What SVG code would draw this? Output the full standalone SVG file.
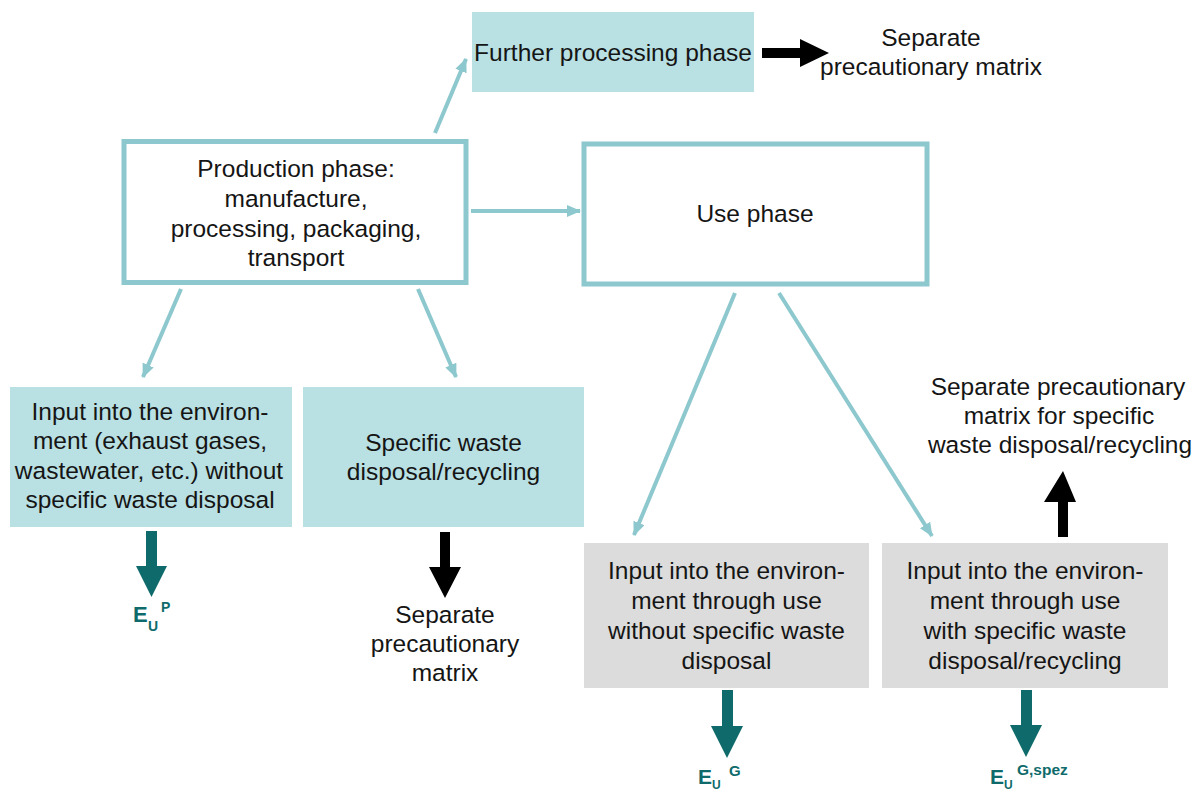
<svg xmlns="http://www.w3.org/2000/svg" width="1196" height="791" viewBox="0 0 1196 791">
<defs>
<style>
.t{font-family:"Liberation Sans",Arial,sans-serif;font-size:24.5px;fill:#151515;text-anchor:middle}
.e{font-family:"Liberation Sans",Arial,sans-serif;font-weight:bold;fill:#0f6b6b}
.lt{fill:#b9e0e3}
.gr{fill:#dcdcdc}
.ob{fill:#ffffff;stroke:#8cc8cd;stroke-width:5}
.con{stroke:#8cc8cd;stroke-width:4;fill:none;marker-end:url(#ah)}
.blk{fill:#000}
.tl{fill:#0f6b6b}
</style>
<marker id="ah" markerUnits="userSpaceOnUse" viewBox="0 0 14 12" refX="13" refY="6" markerWidth="14" markerHeight="12" orient="auto">
<path d="M0,0 L14,6 L0,12 Z" fill="#8cc8cd"/>
</marker>
</defs>
<rect width="1196" height="791" fill="#fff"/>

<g id="connectors">
<line class="con" x1="435" y1="133" x2="466" y2="59"/>
<line class="con" x1="471" y1="211" x2="580" y2="211"/>
<line class="con" x1="181" y1="289" x2="143" y2="377"/>
<line class="con" x1="418" y1="289" x2="456" y2="377"/>
<line class="con" x1="735" y1="293" x2="634" y2="535"/>
<line class="con" x1="779" y1="293" x2="932" y2="536"/>
<polygon class="blk" points="762,48 800,48 800,39 829,53 800,67 800,58 762,58"/>
<polygon class="blk" points="440,532 450,532 450,567 461,567 445,598 429,567 440,567"/>
<polygon class="blk" points="1058,537 1068,537 1068,502 1076,502 1063,471 1044,502 1058,502"/>
<polygon class="tl" points="146,531 157,531 157,566 167,566 151.5,597 136,566 146,566"/>
<polygon class="tl" points="722,690 733,690 733,726 743,726 727,758 711,726 722,726"/>
<polygon class="tl" points="1021,690 1032,690 1032,725 1042,725 1026,757 1010,725 1021,725"/>
</g>

<g id="further">
<rect class="lt" x="472" y="12" width="282" height="80"/>
<text class="t" x="613" y="61">Further processing phase</text>
</g>
<g id="sep-top">
<text class="t" x="931" y="46">Separate</text>
<text class="t" x="931" y="75">precautionary matrix</text>
</g>
<g id="production">
<rect class="ob" x="124" y="141.5" width="342" height="141"/>
<text class="t" x="296" y="177">Production phase:</text>
<text class="t" x="296" y="207">manufacture,</text>
<text class="t" x="296" y="237">processing, packaging,</text>
<text class="t" x="296" y="266">transport</text>
</g>
<g id="use">
<rect class="ob" x="584" y="144" width="343" height="140"/>
<text class="t" x="755" y="222">Use phase</text>
</g>
<g id="input-prod">
<rect class="lt" x="10" y="387" width="282" height="140"/>
<text class="t" x="150" y="420">Input into the environ-</text>
<text class="t" x="150" y="449">ment (exhaust gases,</text>
<text class="t" x="149" y="479">wastewater, etc.) without</text>
<text class="t" x="150" y="508">specific waste disposal</text>
</g>
<g id="specific">
<rect class="lt" x="303" y="387" width="281" height="140"/>
<text class="t" x="443.5" y="451">Specific waste</text>
<text class="t" x="443.5" y="480">disposal/recycling</text>
</g>
<g id="sep-mid">
<text class="t" x="445" y="623">Separate</text>
<text class="t" x="445" y="652">precautionary</text>
<text class="t" x="445" y="681">matrix</text>
</g>
<g id="sep-right">
<text class="t" x="1058" y="395">Separate precautionary</text>
<text class="t" x="1059" y="424">matrix for specific</text>
<text class="t" x="1060" y="453">waste disposal/recycling</text>
</g>
<g id="input-use">
<rect class="gr" x="584" y="543" width="285" height="145"/>
<text class="t" x="726.5" y="579">Input into the environ-</text>
<text class="t" x="726.5" y="609">ment through use</text>
<text class="t" x="726.5" y="639">without specific waste</text>
<text class="t" x="726.5" y="669">disposal</text>
</g>
<g id="input-use-spec">
<rect class="gr" x="882" y="543" width="286" height="145"/>
<text class="t" x="1025" y="579">Input into the environ-</text>
<text class="t" x="1025" y="609">ment through use</text>
<text class="t" x="1025" y="639">with specific waste</text>
<text class="t" x="1025" y="669">disposal/recycling</text>
</g>
<g id="eup">
<text class="e"><tspan x="133" y="622" font-size="22">E</tspan><tspan x="148" y="631" font-size="14">U</tspan><tspan x="161" y="612" font-size="14">P</tspan></text>
</g>
<g id="eug">
<text class="e"><tspan x="698" y="784" font-size="21">E</tspan><tspan x="712" y="789" font-size="12">U</tspan><tspan x="729" y="776" font-size="15">G</tspan></text>
</g>
<g id="eugspez">
<text class="e"><tspan x="990" y="784" font-size="21">E</tspan><tspan x="1004" y="789" font-size="12">U</tspan><tspan x="1017" y="775" font-size="15.5">G,spez</tspan></text>
</g>
</svg>
